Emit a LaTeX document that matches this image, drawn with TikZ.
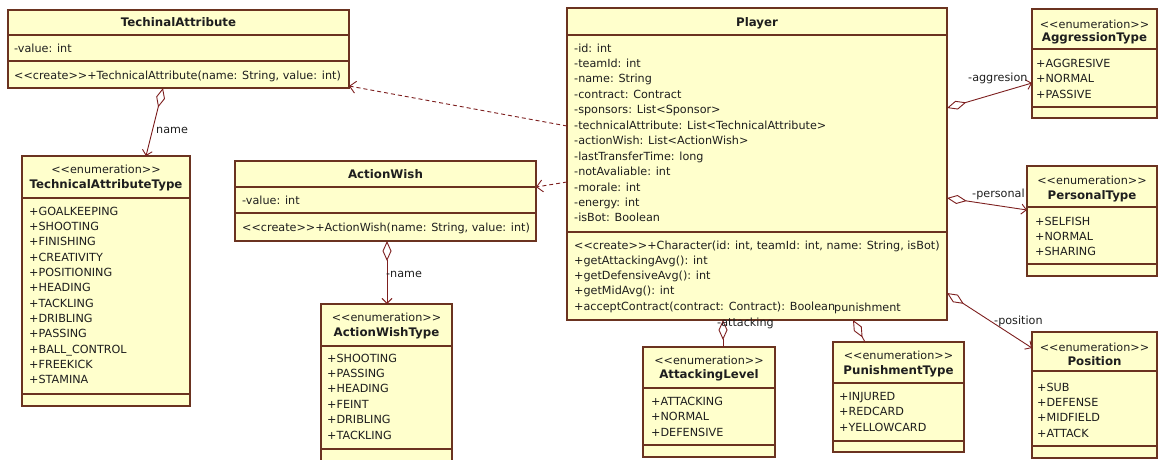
\documentclass[tikz,border=0pt]{standalone}
\usepackage{fontspec}
\setmainfont{DejaVu Sans}
\usetikzlibrary{arrows.meta}

\definecolor{boxfill}{HTML}{FFFFCC}
\definecolor{boxline}{HTML}{6B3320}
\definecolor{linkcol}{HTML}{7D1F1F}
\definecolor{txt}{HTML}{1E1E1E}

% stereotype brackets, kept as two separate glyphs
\newcommand{\stopen}{<\kern0pt<}
\newcommand{\stclose}{>\kern0pt>}

\tikzset{
  box/.style={draw=boxline, fill=boxfill, line width=1.1pt, anchor=north west,
    inner sep=0pt, outer sep=0pt},
  sep/.style={draw=boxline, line width=1.1pt},
  lbl/.style={anchor=west, inner sep=0pt, text=txt,
    font=\fontsize{11.2}{13}\selectfont, text height=8pt, text depth=0pt},
  ctr/.style={lbl, anchor=center},
  ttl/.style={ctr, font=\fontsize{11.8}{13}\selectfont\bfseries},
  agg/.style={draw=linkcol, line width=0.9pt,
    {Diamond[fill=white, length=20pt, width=9pt]}-{Straight Barb[length=5pt, width=10pt]}},
  aggshort/.style={draw=linkcol, line width=0.9pt,
    {Diamond[fill=white, length=20pt, width=9pt]}-},
  dep/.style={draw=linkcol, line width=0.9pt, dash pattern=on 4pt off 3pt,
    -{Straight Barb[length=6pt, width=12pt]}},
}

\begin{document}
\begin{tikzpicture}[x=1pt, y=-1pt]
\useasboundingbox (0,0) rectangle (1158,459);
\clip (0,0) rectangle (1158,459);

% ---------- TechinalAttribute ----------
\node[box, minimum width=341pt, minimum height=78pt] (ta) at (8,10) {};
\draw[sep] (8,35) -- (349,35);
\draw[sep] (8,61) -- (349,61);
\node[ttl] (ta-t) at (178.5,22) {TechinalAttribute};
\node[lbl] (ta-a) at (14,48) {-value: int};
\node[lbl] (ta-m) at (14,75) {\stopen create\stclose+TechnicalAttribute(name: String, value: int)};

% ---------- TechnicalAttributeType ----------
\node[box, minimum width=168pt, minimum height=250pt] (tat) at (22,156) {};
\draw[sep] (22,198) -- (190,198);
\draw[sep] (22,394) -- (190,394);
\node[ctr] (tat-s) at (106,169) {\stopen enumeration\stclose};
\node[ttl] (tat-t) at (106,184) {TechnicalAttributeType};
\foreach \t [count=\i from 0] in {+GOALKEEPING, +SHOOTING, +FINISHING, +CREATIVITY,
    +POSITIONING, +HEADING, +TACKLING, +DRIBLING, +PASSING, +BALL\_CONTROL,
    +FREEKICK, +STAMINA}
  \node[lbl] (tat-\i) at (29,{211+15.36*\i}) {\t};

% ---------- ActionWish ----------
\node[box, minimum width=301pt, minimum height=80pt] (aw) at (235,161) {};
\draw[sep] (235,187) -- (536,187);
\draw[sep] (235,213) -- (536,213);
\node[ttl] (aw-t) at (385.5,174) {ActionWish};
\node[lbl] (aw-a) at (242,200) {-value: int};
\node[lbl] (aw-m) at (242,227) {\stopen create\stclose+ActionWish(name: String, value: int)};

% ---------- ActionWishType ----------
\node[box, minimum width=131pt, minimum height=170pt] (awt) at (321,304) {};
\draw[sep] (321,346) -- (452,346);
\draw[sep] (321,449) -- (452,449);
\node[ctr] (awt-s) at (386.5,317) {\stopen enumeration\stclose};
\node[ttl] (awt-t) at (386.5,332) {ActionWishType};
\foreach \t [count=\i from 0] in {+SHOOTING, +PASSING, +HEADING, +FEINT, +DRIBLING, +TACKLING}
  \node[lbl] (awt-\i) at (327,{358+15.4*\i}) {\t};

% ---------- Player ----------
\node[box, minimum width=380pt, minimum height=312pt] (pl) at (567,8) {};
\draw[sep] (567,35) -- (947,35);
\draw[sep] (567,232) -- (947,232);
\node[ttl] (pl-t) at (757,22) {Player};
\foreach \t [count=\i from 0] in {-id: int, -teamId: int, -name: String,
    -contract: Contract, -sponsors: List<Sponsor>,
    -technicalAttribute: List<TechnicalAttribute>, -actionWish: List<ActionWish>,
    -lastTransferTime: long, -notAvaliable: int, -morale: int, -energy: int,
    -isBot: Boolean}
  \node[lbl] (pl-a\i) at (574,{48+15.45*\i}) {\t};
\foreach \t [count=\i from 0] in {{\stopen create\stclose+Character(id: int, teamId: int, name: String, isBot)},
    +getAttackingAvg(): int, +getDefensiveAvg(): int, +getMidAvg(): int,
    {+acceptContract(contract: Contract): Boolean}}
  \node[lbl] (pl-m\i) at (574,{245+15.25*\i}) {\t};

% ---------- AggressionType ----------
\node[box, minimum width=125pt, minimum height=109pt] (ag) at (1032,9) {};
\draw[sep] (1032,49) -- (1157,49);
\draw[sep] (1032,107) -- (1157,107);
\node[ctr] (ag-s) at (1094.5,24) {\stopen enumeration\stclose};
\node[ttl] (ag-t) at (1094.5,37) {AggressionType};
\foreach \t [count=\i from 0] in {+AGGRESIVE, +NORMAL, +PASSIVE}
  \node[lbl] (ag-\i) at (1036,{63+15.5*\i}) {\t};

% ---------- PersonalType ----------
\node[box, minimum width=130pt, minimum height=110pt] (pt) at (1027,166) {};
\draw[sep] (1027,207) -- (1157,207);
\draw[sep] (1027,264) -- (1157,264);
\node[ctr] (pt-s) at (1092,180) {\stopen enumeration\stclose};
\node[ttl] (pt-t) at (1092,195) {PersonalType};
\foreach \t [count=\i from 0] in {+SELFISH, +NORMAL, +SHARING}
  \node[lbl] (pt-\i) at (1035,{221+15*\i}) {\t};

% ---------- Position ----------
\node[box, minimum width=125pt, minimum height=126pt] (pos) at (1032,332) {};
\draw[sep] (1032,371) -- (1157,371);
\draw[sep] (1032,446) -- (1157,446);
\node[ctr] (pos-s) at (1094.5,347) {\stopen enumeration\stclose};
\node[ttl] (pos-t) at (1094.5,361) {Position};
\foreach \t [count=\i from 0] in {+SUB, +DEFENSE, +MIDFIELD, +ATTACK}
  \node[lbl] (pos-\i) at (1037,{387+15.4*\i}) {\t};

% ---------- AttackingLevel ----------
\node[box, minimum width=132pt, minimum height=110pt] (al) at (643,347) {};
\draw[sep] (643,388) -- (775,388);
\draw[sep] (643,445) -- (775,445);
\node[ctr] (al-s) at (709,360) {\stopen enumeration\stclose};
\node[ttl] (al-t) at (709,374) {AttackingLevel};
\foreach \t [count=\i from 0] in {+ATTACKING, +NORMAL, +DEFENSIVE}
  \node[lbl] (al-\i) at (651,{401+15.5*\i}) {\t};

% ---------- PunishmentType ----------
\node[box, minimum width=131pt, minimum height=110pt] (pun) at (833,342) {};
\draw[sep] (833,383) -- (964,383);
\draw[sep] (833,441) -- (964,441);
\node[ctr] (pun-s) at (898.5,355) {\stopen enumeration\stclose};
\node[ttl] (pun-t) at (898.5,370) {PunishmentType};
\foreach \t [count=\i from 0] in {+INJURED, +REDCARD, +YELLOWCARD}
  \node[lbl] (pun-\i) at (839,{396+15.5*\i}) {\t};

% ---------- dependencies ----------
\draw[dep] (pl.west |- 0,126) -- (ta.east |- 0,86);
\draw[dep] (pl.west |- 0,182) -- (aw.east |- 0,187);

% ---------- aggregations ----------
\draw[agg] (ta.south -| 163,0) -- (tat.north -| 146,0);
\node[lbl] (l-name1) at (156,129) {name};

\draw[agg] (aw.south -| 387,0) -- (awt.north -| 387,0);
\node[lbl] (l-name2) at (386,273) {-name};

\draw[agg] (pl.east |- 0,108) -- (ag.west |- 0,83);
\node[lbl] (l-aggr) at (968,77) {-aggresion};

\draw[agg] (pl.east |- 0,198) -- (pt.west |- 0,210);
\node[lbl] (l-pers) at (972,193) {-personal};

\draw[agg] (pl.east |- 0,293) -- (pos.west |- 0,348);
\node[lbl] (l-pos) at (994,320) {-position};

\draw[aggshort] (pl.south -| 723,0) -- (al.north -| 723,0);
\node[lbl] (l-att) at (717,322) {-attacking};

\draw[aggshort] (pl.south -| 853,0) -- (pun.north -| 865,0);
\node[lbl] (l-pun) at (834,307) {punishment};
\end{tikzpicture}
\end{document}
